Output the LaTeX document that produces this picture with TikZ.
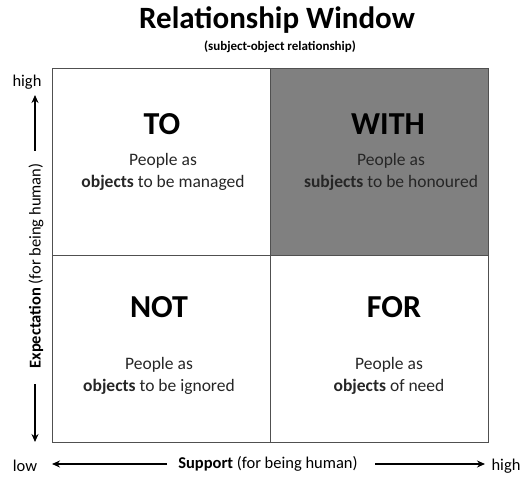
\documentclass[tikz,border=0pt]{standalone}
\usepackage{fontspec}
\setmainfont{Carlito}
\usetikzlibrary{arrows.meta}
\definecolor{gridline}{HTML}{505050}
\definecolor{quadfill}{HTML}{808080}
\definecolor{bodytext}{HTML}{262626}
\begin{document}
\begin{tikzpicture}[x=1pt,y=-1pt,
  quad/.style={draw=gridline,line width=1.1pt,minimum width=218pt,minimum height=187pt,anchor=north west,inner sep=0pt},
  headword/.style={font=\fontsize{32}{32}\selectfont\bfseries,inner sep=0pt},
  body/.style={font=\fontsize{17.5}{21.5}\selectfont,text=bodytext,align=center,inner sep=0pt},
  axislbl/.style={font=\fontsize{16.5}{16.5}\selectfont,inner sep=0pt},
  axisarrow/.style={line width=1.6pt,-{Stealth[length=8pt,width=7pt]}}]
\useasboundingbox (0,0) rectangle (532,478);
% title
\node[font=\fontsize{31}{31}\selectfont\bfseries,inner sep=0pt] (title) at (277,20) {Relationship Window};
\node[font=\fontsize{13}{13}\selectfont\bfseries,inner sep=0pt] (subtitle) at (280,47) {(subject-object relationship)};
% quadrants
\node[quad] (qTO) at (52,68) {};
\node[quad,fill=quadfill] (qWITH) at (270,68) {};
\node[quad] (qNOT) at (52,255) {};
\node[quad] (qFOR) at (270,255) {};
% texts
\node[headword] (TO) at (162,124) {TO};
\node[body] (TOb) at (163,172) {People as\\\textbf{objects} to be managed};
\node[headword] (WITH) at (388,124) {WITH};
\node[body] (WITHb) at (391,172) {People as\\\textbf{subjects} to be honoured};
\node[headword] (NOT) at (159,307) {NOT};
\node[body] (NOTb) at (159,376) {People as\\\textbf{objects} to be ignored};
\node[headword] (FOR) at (394,307) {FOR};
\node[body] (FORb) at (389,376) {People as\\\textbf{objects} of need};
% vertical axis
\node[axislbl] (vhigh) at (27,82) {high};
\node[axislbl,rotate=90] (vlab) at (36,266) {\textbf{Expectation} (for being human)};
\coordinate (vupS) at (35,151);
\coordinate (vupE) at (35,95);
\coordinate (vdnS) at (35,384);
\coordinate (vdnE) at (35,442);
\draw[axisarrow] (vupS) -- (vupE);
\draw[axisarrow] (vdnS) -- (vdnE);
% horizontal axis
\node[axislbl] (hlow) at (25,466) {low};
\node[axislbl] (hlab) at (268,464) {\textbf{Support} (for being human)};
\node[axislbl] (hhigh) at (506,466) {high};
\coordinate (hlS) at (167,464);
\coordinate (hlE) at (52,464);
\coordinate (hrS) at (375,464);
\coordinate (hrE) at (485,464);
\draw[axisarrow] (hlS) -- (hlE);
\draw[axisarrow] (hrS) -- (hrE);
\end{tikzpicture}
\end{document}
